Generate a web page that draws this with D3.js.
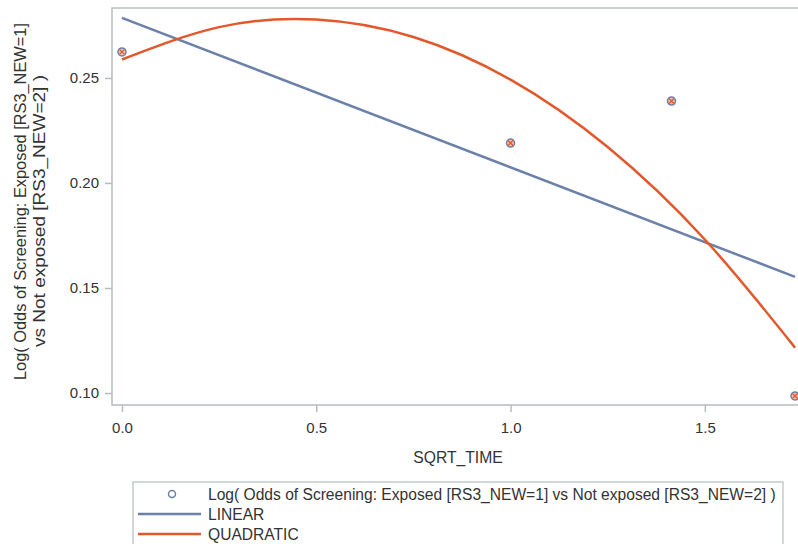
<!DOCTYPE html>
<html><head><meta charset="utf-8">
<script src="https://cdn.jsdelivr.net/npm/d3@7"></script>
<style>body{margin:0;background:#fff;overflow:hidden}svg{display:block;font-family:"Liberation Sans",Arial,sans-serif}</style>
</head><body>
<svg id="c" width="798" height="544"></svg>
<script>
// Observed log odds at each SQRT_TIME value
const obsX = [0, 1, 1.4142, 1.7321];
const obsY = [0.2624, 0.219, 0.239, 0.0986];
// Linear fit line (end points)
const linX = [0, 1.7321];
const linY = [0.2786, 0.1553];
// Quadratic fit curve
const quadX = [0, 0.25, 0.5, 0.75, 1.0, 1.25, 1.5, 1.7321];
const quadY = [0.2588, 0.2742, 0.2778, 0.2695, 0.2492, 0.2171, 0.1731, 0.1216];
const xTicks = [0, 0.5, 1.0, 1.5];
const yTicks = [0.10, 0.15, 0.20, 0.25];
const legendLabels = ["Log( Odds of Screening: Exposed [RS3_NEW=1] vs Not exposed [RS3_NEW=2] )", "LINEAR", "QUADRATIC"];
const yTitle = ["Log( Odds of Screening: Exposed [RS3_NEW=1]", "vs Not exposed [RS3_NEW=2] )"];

const blue = "#6b81aa", orange = "#e2582a", axisCol = "#b5bcbf", textCol = "#333";
const svg = d3.select("#c");
const L = 112, R = 805, T = 8, B = 405;
const x = d3.scaleLinear().domain([-0.0257, 1.7578]).range([L, R]);
const y = d3.scaleLinear().domain([0.0943, 0.2833]).range([B, T]);

// frame
svg.append("rect").attr("x", L).attr("y", T).attr("width", R - L).attr("height", B - T)
  .attr("fill", "none").attr("stroke", axisCol).attr("stroke-width", 1.5);

const xa = svg.append("g").attr("transform", `translate(0,${B})`)
  .call(d3.axisBottom(x).tickValues(xTicks).tickFormat(d3.format(".1f")).tickSize(7).tickSizeOuter(0));
const ya = svg.append("g").attr("transform", `translate(${L},0)`)
  .call(d3.axisLeft(y).tickValues(yTicks).tickFormat(d3.format(".2f")).tickSize(7).tickSizeOuter(0));
[xa, ya].forEach(g => {
  g.select(".domain").remove();
  g.selectAll("line").attr("stroke", axisCol).attr("stroke-width", 1.5);
  g.selectAll("text").attr("fill", textCol).attr("font-size", 15)
   .attr("font-family", '"Liberation Sans",Arial,sans-serif');
});
xa.selectAll("text").attr("y", 28).attr("dy", 0);
ya.selectAll("text").attr("x", -13);

// axis titles
svg.append("text").attr("x", 458).attr("y", 463).attr("text-anchor", "middle")
  .attr("font-size", 15.7).attr("fill", textCol).text("SQRT_TIME");
const ytitle = svg.append("g");
ytitle.append("text").attr("transform", "translate(26,380) rotate(-90)")
  .attr("font-size", 15.7).attr("fill", textCol)
  .attr("textLength", 357).attr("lengthAdjust", "spacingAndGlyphs").text(yTitle[0]);
ytitle.append("text").attr("transform", "translate(45,347) rotate(-90)")
  .attr("font-size", 15.7).attr("fill", textCol)
  .attr("textLength", 272).attr("lengthAdjust", "spacingAndGlyphs").text(yTitle[1]);

svg.append("defs").append("clipPath").attr("id", "pc")
  .append("rect").attr("x", L).attr("y", T).attr("width", R - L).attr("height", B - T);
const plot = svg.append("g").attr("clip-path", "url(#pc)");

const line = d3.line().x(d => x(d[0])).y(d => y(d[1]));
plot.append("path").datum(linX.map((v, i) => [v, linY[i]])).attr("d", line)
  .attr("fill", "none").attr("stroke", blue).attr("stroke-width", 2.5);
plot.append("path").datum(quadX.map((v, i) => [v, quadY[i]])).attr("d", line.curve(d3.curveNatural))
  .attr("fill", "none").attr("stroke", orange).attr("stroke-width", 2.5);

// markers
const pts = plot.selectAll(".pt").data(obsX.map((v, i) => [v, obsY[i]])).enter().append("g")
  .attr("transform", d => `translate(${x(d[0])},${y(d[1])})`);
pts.append("circle").attr("r", 4).attr("fill", "#f1c3b0").attr("stroke", blue).attr("stroke-width", 1.5);
pts.append("path").attr("d", "M-2.5,-2.5L2.5,2.5M-2.5,2.5L2.5,-2.5").attr("stroke", orange).attr("stroke-width", 1.3);

// legend
const lg = svg.append("g");
lg.append("rect").attr("x", 133).attr("y", 482).attr("width", 650).attr("height", 80)
  .attr("fill", "none").attr("stroke", axisCol).attr("stroke-width", 1.2);
const rows = [494, 514, 534];
lg.append("circle").attr("cx", 172).attr("cy", rows[0]).attr("r", 3.5).attr("fill", "none")
  .attr("stroke", blue).attr("stroke-width", 1.5);
lg.append("line").attr("x1", 138).attr("x2", 201).attr("y1", rows[1]).attr("y2", rows[1])
  .attr("stroke", blue).attr("stroke-width", 2.5);
lg.append("line").attr("x1", 138).attr("x2", 201).attr("y1", rows[2]).attr("y2", rows[2])
  .attr("stroke", orange).attr("stroke-width", 2.5);
lg.selectAll(".lt").data(legendLabels).enter().append("text")
  .attr("x", 208).attr("y", (d, i) => rows[i] + 5.5).attr("font-size", 15.6).attr("fill", textCol).text(d => d);
</script>
</body></html>
